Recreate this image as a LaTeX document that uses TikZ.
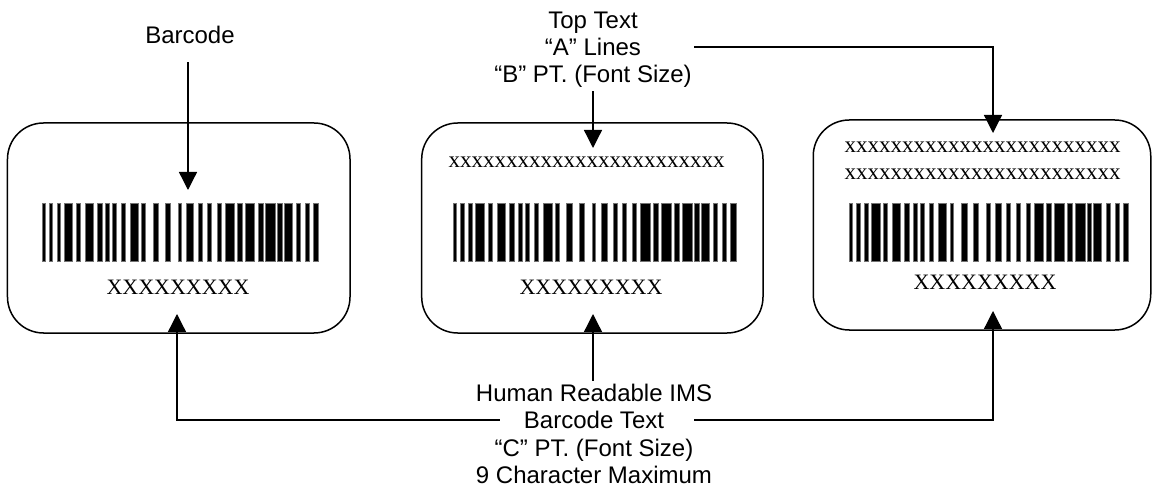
\documentclass[tikz,border=0pt]{standalone}
\usepackage{fontspec}
\setmainfont{Liberation Serif}
\newfontfamily\lblfont{Liberation Sans}
\usetikzlibrary{arrows.meta}
\newcommand\mybarlist{0/3.3,7.3/10.7,15/18.7,22/30.7,34/38.3,43/51,55/60,63.7/67.7,70.7/74.7,79/83.7,88.3/96.7,99.7/103.3,111/116.7,123/128.3,136/139.3,144.3/151,156/160,165.3/169.3,175.3/179.3,183/192,195.3/200,203.3/212.7,216/221,223.7/233.3,235.3/240,242/250,254/258,263/267,271/276}
\begin{document}
\begin{tikzpicture}[x=1bp,y=-1bp,
  lbl/.style={font=\lblfont\fontsize{24bp}{27.5bp}\selectfont, anchor=base, inner sep=3bp},
  code/.style={font=\fontsize{22bp}{26bp}\selectfont, anchor=base, inner sep=0pt},
  smallcode/.style={font=\fontsize{23bp}{26bp}\selectfont, anchor=base, inner sep=0pt},
  labelbox/.style={draw, line width=1.5bp, rounded corners=36bp, inner sep=0pt},
  arr/.style={line width=1.3bp, -{Triangle[width=18bp,length=18bp]}},
  bar/.style={fill=black, draw=black!55, line width=0.6bp}]
\useasboundingbox (0,0) rectangle (1152,498);

% label boxes
\node[labelbox, minimum width=342.5bp, minimum height=210bp] (box1) at (178.75,228) {};
\node[labelbox, minimum width=341.3bp, minimum height=210bp] (box2) at (592.35,228) {};
\node[labelbox, minimum width=337.5bp, minimum height=210bp] (box3) at (982,225) {};

% barcodes
\begin{scope}[shift={(42,203)}]
  \foreach \a/\b in \mybarlist {\path[bar] (\a,0) rectangle (\b,58);}
\end{scope}
\begin{scope}[shift={(453,203)}, xscale=1.025]
  \foreach \a/\b in \mybarlist {\path[bar] (\a,0) rectangle (\b,58);}
\end{scope}
\begin{scope}[shift={(849,203)}, xscale=1.011]
  \foreach \a/\b in \mybarlist {\path[bar] (\a,0) rectangle (\b,58);}
\end{scope}

% texts inside the boxes
\node[code] (hr1txt) at (178,295) {XXXXXXXXX};
\node[code] (hr2txt) at (591,295) {XXXXXXXXX};
\node[code] (hr3txt) at (985,290) {XXXXXXXXX};
\node[smallcode] (top2txt) at (586.5,168) {xxxxxxxxxxxxxxxxxxxxxxxx};
\node[smallcode] (top3atxt) at (982.5,153) {xxxxxxxxxxxxxxxxxxxxxxxx};
\node[smallcode] (top3btxt) at (982.5,179.5) {xxxxxxxxxxxxxxxxxxxxxxxx};

% outside labels
\node[lbl] (lblBarcode) at (190,44) {Barcode};
\node[lbl] (top1) at (593,28.5) {Top Text};
\node[lbl] (top2) at (593,55.5) {“A” Lines};
\node[lbl] (top3) at (593,83) {“B” PT. (Font Size)};
\node[lbl] (hr1) at (594,401.5) {Human Readable IMS};
\node[lbl] (hr2) at (594,428.5) {Barcode Text};
\node[lbl] (hr3) at (594,456) {“C” PT. (Font Size)};
\node[lbl] (hr4) at (594,483) {9 Character Maximum};

% arrow tips
\coordinate (tip1) at (188,190);
\coordinate (tip2) at (593,148);
\coordinate (tip3) at (993,133);
\coordinate (tip4) at (593,314);
\coordinate (tip5) at (177,314);
\coordinate (tip6) at (993,311);

% connectors
\draw[arr] ([yshift=-15bp]lblBarcode.south -| tip1) -- (tip1);
\draw[arr] (top3.south -| tip2) -- (tip2);
\draw[arr] ([xshift=50bp]top2.east) -| (tip3);
\draw[arr] (hr1.north -| tip4) -- (tip4);
\draw[arr] ([xshift=-21bp]hr2.west) -| (tip5);
\draw[arr] ([xshift=27bp]hr2.east) -| (tip6);
\end{tikzpicture}
\end{document}
